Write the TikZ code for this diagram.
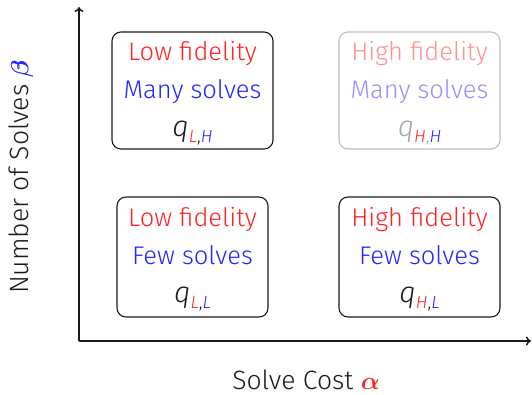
\documentclass[tikz,border=0pt]{standalone}
\usepackage{fontspec}
\usepackage{amsmath,bm}
\setmainfont{Fira Sans}[UprightFont = * Light, ItalicFont = * Light Italic, BoldFont = * Medium]
\usetikzlibrary{arrows.meta}
\definecolor{axiscol}{HTML}{1A1A1A}
\definecolor{myred}{HTML}{FF2222}
\definecolor{myblue}{HTML}{2424FF}
\newcommand{\qsub}[3]{{\fontsize{29}{38}\selectfont\textcolor{#3}{\textit{q}}}\raisebox{-6pt}{\fontsize{17.5}{17.5}\selectfont\textit{#1}\textcolor{#3}{,}\textit{#2}}}
\newcommand{\lift}{\rule{0pt}{24pt}}
\begin{document}
\begin{tikzpicture}[x=1pt,y=-1pt,
  cell/.style={draw=axiscol, line width=1.1pt, rounded corners=9pt, align=center,
    font=\fontsize{25.5}{38}\selectfont, inner sep=0pt, minimum height=117pt},
  faded/.style={draw=black!25},
  axis/.style={draw=axiscol, line width=1.5pt, -{To[length=5pt,width=9pt]}},
  lab/.style={text=axiscol, inner sep=0pt, font=\fontsize{26.5}{30}\selectfont}]
\useasboundingbox (0,0) rectangle (532,395);
\coordinate (O) at (79,341);
\coordinate (Ytop) at (79,7);
\coordinate (Xend) at (531,341);
\draw[axis] (O) -- (Ytop);
\draw[axis] (O) -- (Xend);
\node[cell, minimum width=161pt] (lh) at (192.5,90.5)
  {\lift\textcolor{myred}{Low fidelity}\\ \textcolor{myblue}{Many solves}\\ \qsub{\textcolor{myred}{L}}{\textcolor{myblue}{H}}{axiscol}};
\node[cell, faded, minimum width=161pt] (hh) at (419.5,90.5)
  {\lift\textcolor{myred!50}{High fidelity}\\ \textcolor{myblue!50}{Many solves}\\ \qsub{\textcolor{myred}{H}}{\textcolor{myblue}{H}}{black!35}};
\node[cell, minimum width=151pt, minimum height=120pt] (ll) at (192.5,257)
  {\lift\textcolor{myred}{Low fidelity}\\ \textcolor{myblue}{Few solves}\\ \qsub{\textcolor{myred}{L}}{\textcolor{myblue}{L}}{axiscol}};
\node[cell, minimum width=161pt, minimum height=120pt] (hl) at (419.5,257)
  {\lift\textcolor{myred}{High fidelity}\\ \textcolor{myblue}{Few solves}\\ \qsub{\textcolor{myred}{H}}{\textcolor{myblue}{L}}{axiscol}};
\node[lab, rotate=90] (ylab) at (21,177) {Number of Solves $\textcolor{myblue}{\bm{\beta}}$};
\node[lab] (xlab) at (306,379.5) {Solve Cost $\textcolor{myred}{\bm{\alpha}}$};
\end{tikzpicture}
\end{document}
